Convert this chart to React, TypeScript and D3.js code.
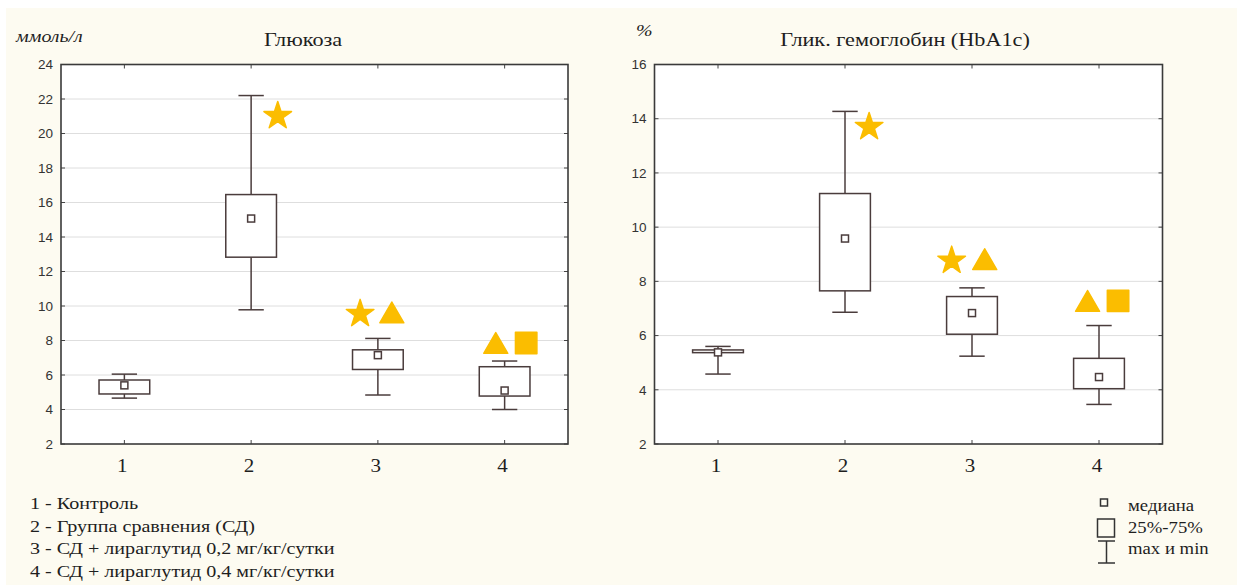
import React from "react";
import * as d3 from "d3";

// groups on the x axis
const groups = [1, 2, 3, 4];

// glucose, mmol/l
const glucoseMin = [4.66, 9.78, 4.84, 4.0];
const glucoseQ1 = [4.9, 12.83, 6.32, 4.78];
const glucoseMedian = [5.4, 15.07, 7.15, 5.1];
const glucoseQ3 = [5.71, 16.46, 7.46, 6.48];
const glucoseMax = [6.05, 22.2, 8.12, 6.81];
const glucoseTicks = [2, 4, 6, 8, 10, 12, 14, 16, 18, 20, 22, 24];
const glucoseMarks = [
  { group: 2, value: 21.1, shape: "star", dx: 0.21 },
  { group: 3, value: 9.63, shape: "star", dx: -0.14 },
  { group: 3, value: 9.63, shape: "triangle", dx: 0.11 },
  { group: 4, value: 7.86, shape: "triangle", dx: -0.07 },
  { group: 4, value: 7.86, shape: "square", dx: 0.17 },
];

// HbA1c, %
const hbaMin = [4.58, 6.86, 5.24, 3.46];
const hbaQ1 = [5.37, 7.65, 6.05, 4.04];
const hbaMedian = [5.38, 9.58, 6.83, 4.47];
const hbaQ3 = [5.47, 11.24, 7.44, 5.16];
const hbaMax = [5.6, 14.27, 7.76, 6.37];
const hbaTicks = [2, 4, 6, 8, 10, 12, 14, 16];
const hbaMarks = [
  { group: 2, value: 13.75, shape: "star", dx: 0.19 },
  { group: 3, value: 8.82, shape: "star", dx: -0.16 },
  { group: 3, value: 8.82, shape: "triangle", dx: 0.1 },
  { group: 4, value: 7.28, shape: "triangle", dx: -0.09 },
  { group: 4, value: 7.28, shape: "square", dx: 0.15 },
];

const groupNames = [
  "1 - Контроль",
  "2 - Группа сравнения (СД)",
  "3 - СД + лираглутид 0,2 мг/кг/сутки",
  "4 -  СД + лираглутид 0,4 мг/кг/сутки",
];
const keyNames = ["медиана", "25%-75%", "max и min"];

const SERIF = "'Liberation Serif', 'Times New Roman', serif";
const SANS = "'Liberation Sans', Arial, sans-serif";
const GOLD = "#fbbd00";
const BOXC = "#4a3c3c";
// the source picture is stretched sideways a bit, so serif text is too
const STRETCH = 1.17;

const panels = [
  {
    title: "Глюкоза",
    titleX: 303,
    unit: "ммоль/л",
    unitX: 16,
    unitY: 42,
    left: 61,
    right: 568,
    ticks: glucoseTicks,
    min: glucoseMin,
    q1: glucoseQ1,
    med: glucoseMedian,
    q3: glucoseQ3,
    max: glucoseMax,
    marks: glucoseMarks,
  },
  {
    title: "Глик. гемоглобин (HbA1c)",
    titleX: 905,
    unit: "%",
    unitX: 636,
    unitY: 36,
    left: 654.5,
    right: 1162.5,
    ticks: hbaTicks,
    min: hbaMin,
    q1: hbaQ1,
    med: hbaMedian,
    q3: hbaQ3,
    max: hbaMax,
    marks: hbaMarks,
  },
];

const TOP = 64.5;
const BOTTOM = 444;

function Stext({ x, y, size, anchor = "start", italic = false, children }: any) {
  return (
    <text
      transform={`translate(${x},${y}) scale(${STRETCH},1)`}
      textAnchor={anchor}
      fontFamily={SERIF}
      fontStyle={italic ? "italic" : "normal"}
      fontSize={size}
      fill="#1e1e1e"
    >
      {children}
    </text>
  );
}

function markPath(shape: string) {
  if (shape === "star") return d3.symbol(d3.symbolStar, 236)() as string;
  if (shape === "triangle") return d3.symbol(d3.symbolTriangle, 250)() as string;
  return d3.symbol(d3.symbolSquare, 460)() as string;
}

function Panel({ p }: { p: any }) {
  const x = d3.scaleLinear().domain([0.5, 4.5]).range([p.left, p.right]);
  const y = d3
    .scaleLinear()
    .domain([p.ticks[0], p.ticks[p.ticks.length - 1]])
    .range([BOTTOM, TOP]);
  const step = x(2) - x(1);
  const boxW = step * 0.4;
  const capW = step * 0.2;

  return (
    <g>
      <Stext x={p.titleX} y={46} size={19} anchor="middle">
        {p.title}
      </Stext>
      <Stext x={p.unitX} y={p.unitY} size={17} italic>
        {p.unit}
      </Stext>
      <rect x={p.left} y={TOP} width={p.right - p.left} height={BOTTOM - TOP} fill="#fff" />
      {p.ticks.slice(1, -1).map((t: number) => (
        <line key={"g" + t} x1={p.left} x2={p.right} y1={y(t)} y2={y(t)} stroke="#dedede" strokeWidth={1} />
      ))}
      {p.ticks.map((t: number) => (
        <g key={"t" + t}>
          <line x1={p.left} x2={p.left + 4} y1={y(t)} y2={y(t)} stroke="#444" />
          <line x1={p.right - 4} x2={p.right} y1={y(t)} y2={y(t)} stroke="#444" />
          <text
            x={p.left - 8}
            y={y(t)}
            dy="0.35em"
            textAnchor="end"
            fontFamily={SANS}
            fontSize={13.5}
            fill="#333"
          >
            {t}
          </text>
        </g>
      ))}
      {groups.map((g) => (
        <g key={"x" + g}>
          <line x1={x(g)} x2={x(g)} y1={TOP} y2={TOP + 4} stroke="#444" />
          <line x1={x(g)} x2={x(g)} y1={BOTTOM - 4} y2={BOTTOM} stroke="#444" />
          <Stext x={x(g) - 2} y={472} size={18} anchor="middle">
            {g}
          </Stext>
        </g>
      ))}
      <rect
        x={p.left}
        y={TOP}
        width={p.right - p.left}
        height={BOTTOM - TOP}
        fill="none"
        stroke="#3a3a3a"
        strokeWidth={1.6}
      />
      {groups.map((g, i) => (
        <g key={"b" + g} stroke={BOXC} strokeWidth={1.5}>
          <line x1={x(g)} x2={x(g)} y1={y(p.max[i])} y2={y(p.min[i])} />
          <line x1={x(g) - capW / 2} x2={x(g) + capW / 2} y1={y(p.max[i])} y2={y(p.max[i])} />
          <line x1={x(g) - capW / 2} x2={x(g) + capW / 2} y1={y(p.min[i])} y2={y(p.min[i])} />
          <rect
            x={x(g) - boxW / 2}
            y={y(p.q3[i])}
            width={boxW}
            height={Math.max(y(p.q1[i]) - y(p.q3[i]), 1)}
            fill="#fff"
          />
          <rect x={x(g) - 3.5} y={y(p.med[i]) - 3.5} width={7} height={7} fill="#fff" />
        </g>
      ))}
      {p.marks.map((m: any, i: number) => (
        <path
          key={"m" + i}
          d={markPath(m.shape)}
          transform={`translate(${x(m.group + m.dx)},${y(m.value) + (m.shape === "triangle" ? 3.5 : m.shape === "star" ? 1.5 : 0)})`}
          fill={GOLD}
          stroke={GOLD}
          strokeWidth={1.5}
          strokeLinejoin="round"
        />
      ))}
    </g>
  );
}

export default function App() {
  return (
    <svg
      width={1237}
      height={585}
      style={{ position: "absolute", left: 0, top: 0, display: "block" }}
    >
      <rect x={0} y={0} width={1237} height={585} fill="#fff" />
      <rect x={6} y={8} width={1231} height={577} fill="#fdfbf1" />
      {panels.map((p, i) => (
        <Panel key={i} p={p} />
      ))}
      {groupNames.map((n, i) => (
        <Stext key={n} x={30} y={509 + i * 22.7} size={17.2}>
          {n}
        </Stext>
      ))}
      <g stroke="#333" strokeWidth={1.5} fill="none">
        <rect x={1100.5} y={499} width={7} height={7} />
        <rect x={1097.5} y={519} width={17} height={18} />
        <line x1={1098} x2={1115} y1={541} y2={541} />
        <line x1={1106.5} x2={1106.5} y1={541} y2={563} />
        <line x1={1098} x2={1115} y1={563} y2={563} />
      </g>
      {keyNames.map((n, i) => (
        <Stext key={n} x={1128} y={511 + i * 21.5} size={16}>
          {n}
        </Stext>
      ))}
    </svg>
  );
}
